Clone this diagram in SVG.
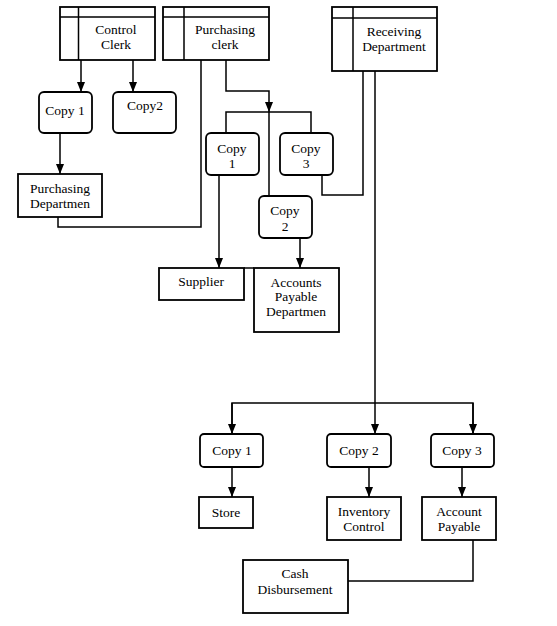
<svg xmlns="http://www.w3.org/2000/svg" width="557" height="626" viewBox="0 0 557 626">
<defs>
<style>
.box{fill:#fff;stroke:#000;stroke-width:1.8}
.ln{fill:none;stroke:#000;stroke-width:1.5}
.t{font-family:'Liberation Serif','DejaVu Serif',serif;font-size:13.5px;fill:#000;text-anchor:middle}
</style>
<marker id="ar" markerUnits="userSpaceOnUse" markerWidth="10" markerHeight="10" viewBox="0 0 10 10" refX="10" refY="5" orient="auto">
<path d="M0,1 L10,5 L0,9 Z" fill="#000"/>
</marker>
</defs>
<rect width="557" height="626" fill="#fff"/>

<g id="control-clerk">
<rect class="box" x="60" y="7" width="95" height="53"/>
<path class="ln" d="M60,17 H155 M78.5,7 V60"/>
<text class="t" x="116" y="34">Control</text>
<text class="t" x="116" y="49">Clerk</text>
</g>
<g id="purchasing-clerk">
<rect class="box" x="163" y="7" width="106" height="53"/>
<path class="ln" d="M163,17 H269 M184,7 V60"/>
<text class="t" x="225" y="34">Purchasing</text>
<text class="t" x="225" y="49">clerk</text>
</g>
<g id="receiving-department">
<rect class="box" x="332" y="7" width="105" height="64"/>
<path class="ln" d="M332,18 H437 M353,7 V71"/>
<text class="t" x="394" y="36">Receiving</text>
<text class="t" x="394" y="51">Department</text>
</g>

<g id="cc-copy1">
<rect class="box" x="39" y="92" width="53" height="41" rx="5"/>
<text class="t" x="65" y="115">Copy 1</text>
</g>
<g id="cc-copy2">
<rect class="box" x="113" y="92" width="63" height="41" rx="5"/>
<text class="t" x="145" y="110">Copy2</text>
</g>
<g id="purchasing-departmen">
<rect class="box" x="18" y="174" width="84" height="43"/>
<text class="t" x="60" y="193">Purchasing</text>
<text class="t" x="60" y="208">Departmen</text>
</g>
<g id="pc-copy1">
<rect class="box" x="206" y="133" width="53" height="42" rx="5"/>
<text class="t" x="232" y="153">Copy</text>
<text class="t" x="232" y="168">1</text>
</g>
<g id="pc-copy3">
<rect class="box" x="280" y="133" width="53" height="42" rx="5"/>
<text class="t" x="306" y="153">Copy</text>
<text class="t" x="306" y="168">3</text>
</g>
<g id="pc-copy2">
<rect class="box" x="259" y="196" width="53" height="42" rx="5"/>
<text class="t" x="285" y="215">Copy</text>
<text class="t" x="285" y="231">2</text>
</g>
<g id="supplier">
<rect class="box" x="159" y="268" width="85" height="32"/>
<text class="t" x="201" y="286">Supplier</text>
</g>
<g id="accounts-payable-departmen">
<rect class="box" x="254" y="268" width="85" height="64"/>
<text class="t" x="296" y="287">Accounts</text>
<text class="t" x="296" y="301">Payable</text>
<text class="t" x="296" y="316">Departmen</text>
</g>

<g id="rd-copy1">
<rect class="box" x="200" y="434" width="63" height="33" rx="4"/>
<text class="t" x="232" y="455">Copy 1</text>
</g>
<g id="rd-copy2">
<rect class="box" x="327" y="434" width="64" height="33" rx="4"/>
<text class="t" x="359" y="455">Copy 2</text>
</g>
<g id="rd-copy3">
<rect class="box" x="431" y="434" width="63" height="33" rx="4"/>
<text class="t" x="462" y="455">Copy 3</text>
</g>
<g id="store">
<rect class="box" x="199" y="497" width="54" height="31"/>
<text class="t" x="226" y="517">Store</text>
</g>
<g id="inventory-control">
<rect class="box" x="327" y="497" width="74" height="43"/>
<text class="t" x="364" y="516">Inventory</text>
<text class="t" x="364" y="531">Control</text>
</g>
<g id="account-payable">
<rect class="box" x="422" y="497" width="74" height="43"/>
<text class="t" x="459" y="516">Account</text>
<text class="t" x="459" y="531">Payable</text>
</g>
<g id="cash-disbursement">
<rect class="box" x="243" y="560" width="105" height="53"/>
<text class="t" x="295" y="578">Cash</text>
<text class="t" x="295" y="594">Disbursement</text>
</g>

<g id="connectors">
<path class="ln" d="M81,60 V92" marker-end="url(#ar)"/>
<path class="ln" d="M133,60 V92" marker-end="url(#ar)"/>
<path class="ln" d="M60,133 V174" marker-end="url(#ar)"/>
<path class="ln" d="M58,217 V227 H201 V60"/>
<path class="ln" d="M226,60 V91 H269 V112" marker-end="url(#ar)"/>
<path class="ln" d="M226,133 V112 H311 V133"/>
<path class="ln" d="M269,112 V196"/>
<path class="ln" d="M219,175 V268" marker-end="url(#ar)"/>
<path class="ln" d="M300,238 V268" marker-end="url(#ar)"/>
<path class="ln" d="M244,268 H254"/>
<path class="ln" d="M322,175 V195 H363 V71"/>
<path class="ln" d="M375,71 V403"/>
<path class="ln" d="M232,434 V403 H473 V434"/>
<path class="ln" d="M232,403 V434" marker-end="url(#ar)"/>
<path class="ln" d="M375,403 V434" marker-end="url(#ar)"/>
<path class="ln" d="M473,403 V434" marker-end="url(#ar)"/>
<path class="ln" d="M232,467 V497" marker-end="url(#ar)"/>
<path class="ln" d="M369,467 V497" marker-end="url(#ar)"/>
<path class="ln" d="M462,467 V497" marker-end="url(#ar)"/>
<path class="ln" d="M473,540 V581 H348"/>
</g>
</svg>
